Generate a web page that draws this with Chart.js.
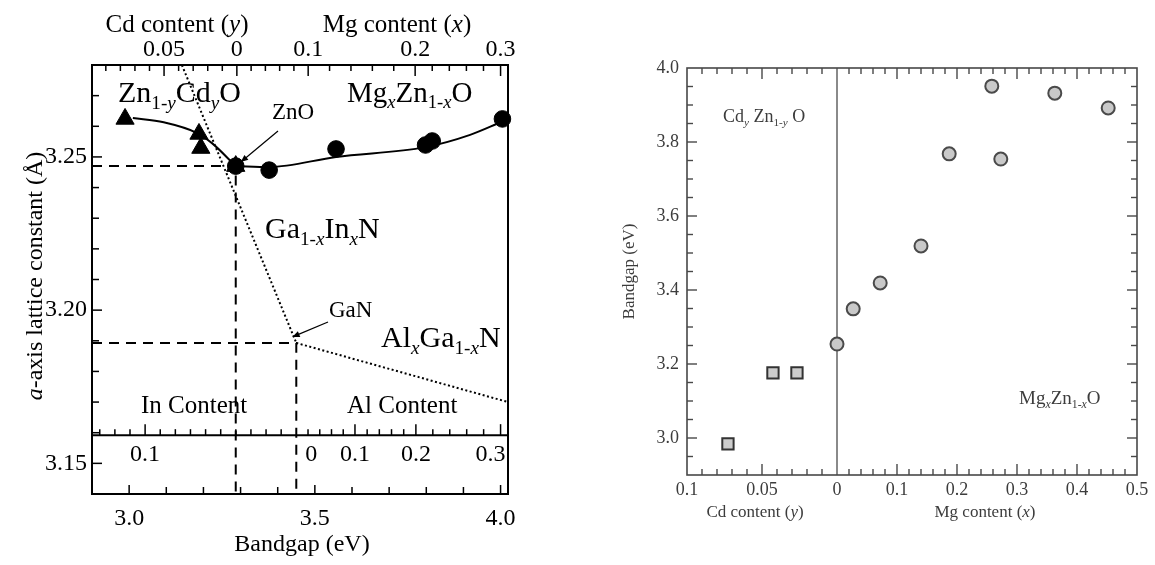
<!DOCTYPE html>
<html>
<head>
<meta charset="utf-8">
<title>ZnO-based alloys: lattice constant and bandgap</title>
<script src="https://cdn.jsdelivr.net/npm/chart.js@4.4.1/dist/chart.umd.min.js"></script>
<style>
  html, body { margin: 0; padding: 0; background: #fff; }
  #wrap { position: relative; width: 1155px; height: 565px; overflow: hidden; background: #fff; }
  #lattice { position: absolute; left: 0; top: 0; }
  #gap { position: absolute; left: 560px; top: 0; }
</style>
</head>
<body>
<div id="wrap">
  <canvas id="lattice" width="560" height="565"></canvas>
  <canvas id="gap" width="595" height="565"></canvas>
</div>
<script>
const SERIF = '"Liberation Serif", "Times New Roman", Times, serif';

// ---------- Left panel: a-axis lattice constant (Å) vs bandgap (eV) ----------
const cdznoGap          = [2.989, 3.188, 3.193, 3.287];
const cdznoLattice      = [3.2624, 3.2575, 3.2529, 3.2470];
const mgznoGap          = [3.287, 3.377, 3.557, 3.798, 3.816, 4.005];
const mgznoLattice      = [3.2470, 3.2457, 3.2526, 3.2539, 3.2552, 3.2624];
const cdznoCurveGap     = [3.010, 3.093, 3.183, 3.223, 3.287];
const cdznoCurveLattice = [3.2627, 3.2613, 3.2578, 3.2545, 3.2470];
const mgznoCurveGap     = [3.287, 3.377, 3.557, 3.798, 3.918, 4.002];
const mgznoCurveLattice = [3.2470, 3.2467, 3.2500, 3.2532, 3.2572, 3.2614];
const ganInGap          = [3.142, 3.450];
const ganInLattice      = [3.2800, 3.1893];
const alGaGap           = [3.450, 4.020];
const alGaLattice       = [3.1893, 3.1700];
const znoPoint          = [3.287, 3.2470];
const ganPoint          = [3.450, 3.1893];

const gapTickValues     = [3.0, 3.5, 4.0];
const latticeTickValues = [3.15, 3.20, 3.25];
const cdTopContent      = [0.05, 0];
const cdTopGap          = [3.094, 3.290];
const mgTopContent      = [0, 0.1, 0.2, 0.3];
const mgTopGap          = [3.290, 3.482, 3.770, 4.000];
const inContent         = [0.1, 0];
const inGap             = [3.043, 3.450];
const alContent         = [0, 0.1, 0.2, 0.3];
const alGap             = [3.450, 3.608, 3.772, 4.000];

// ---------- Right panel: bandgap vs Cd / Mg content ----------
const cdContent         = [0.0727, 0.0427, 0.0267];
const cdBandgap         = [2.984, 3.176, 3.176];
const mgContent         = [0, 0.027, 0.072, 0.140, 0.187, 0.258, 0.273, 0.363, 0.452];
const mgBandgap         = [3.254, 3.349, 3.419, 3.519, 3.768, 3.951, 3.754, 3.932, 3.892];
const cdAxisTicks       = [0.1, 0.05, 0];
const mgAxisTicks       = [0.1, 0.2, 0.3, 0.4, 0.5];
const bandgapAxisTicks  = [3.0, 3.2, 3.4, 3.6, 3.8, 4.0];

// axis layout constants
const GAP_MIN = 2.9, GAP_MAX = 4.02, LAT_MIN = 3.14, LAT_MAX = 3.28;
const STRIP_EDGE = 3.1592;   // top edge of the In/Al content strip
const CD_STRETCH = 2.5;      // Cd half of the composition axis is drawn 2.5x wider per unit
const BG_MIN = 2.9, BG_MAX = 4.0;

const pairs = (xs, ys) => xs.map((x, i) => ({ x, y: ys[i] }));

function seg(ctx, x1, y1, x2, y2) {
  ctx.beginPath(); ctx.moveTo(x1, y1); ctx.lineTo(x2, y2); ctx.stroke();
}

// text with italic and subscript runs: parts = [[text, 'i' | 's' | 'si' | '']]
function rich(ctx, parts, x, y, size, align = 'left', subScale = 0.64) {
  const items = parts.map(([t, st = '']) => {
    const sub = st.includes('s');
    const sz = sub ? size * subScale : size;
    const font = (st.includes('i') ? 'italic ' : '') + sz.toFixed(1) + 'px ' + SERIF;
    ctx.font = font;
    return { t, font, w: ctx.measureText(t).width, dy: sub ? size * 0.22 : 0 };
  });
  const total = items.reduce((s, it) => s + it.w, 0);
  let cx = align === 'center' ? x - total / 2 : align === 'right' ? x - total : x;
  ctx.textAlign = 'left';
  ctx.textBaseline = 'alphabetic';
  for (const it of items) { ctx.font = it.font; ctx.fillText(it.t, cx, y + it.dy); cx += it.w; }
}

function arrow(ctx, x1, y1, x2, y2, head = 8) {
  const ang = Math.atan2(y2 - y1, x2 - x1);
  seg(ctx, x1, y1, x2 - Math.cos(ang) * head * 0.6, y2 - Math.sin(ang) * head * 0.6);
  ctx.beginPath();
  ctx.moveTo(x2, y2);
  ctx.lineTo(x2 - head * Math.cos(ang - 0.4), y2 - head * Math.sin(ang - 0.4));
  ctx.lineTo(x2 - head * Math.cos(ang + 0.4), y2 - head * Math.sin(ang + 0.4));
  ctx.closePath();
  ctx.fill();
}

// position of an alloy composition on the bandgap axis (piecewise linear between labelled ticks)
function contentToGap(cs, gs, c) {
  const n = cs.length;
  let i = -1;
  for (let j = 0; j < n - 1; j++) {
    if ((c - cs[j]) * (c - cs[j + 1]) <= 0) { i = j; break; }
  }
  if (i < 0) {
    const lo = Math.min(cs[0], cs[n - 1]);
    i = ((c < lo) === (cs[0] < cs[n - 1])) ? 0 : n - 2;
  }
  return gs[i] + (gs[i + 1] - gs[i]) * (c - cs[i]) / (cs[i + 1] - cs[i]);
}

const latticeDecor = {
  id: 'latticeDecor',
  afterDatasetsDraw(chart) {
    const { ctx, chartArea: a } = chart;
    const X = v => chart.scales.x.getPixelForValue(v);
    const Y = v => chart.scales.y.getPixelForValue(v);
    ctx.save();
    ctx.strokeStyle = '#000';
    ctx.fillStyle = '#000';
    ctx.lineWidth = 2;
    ctx.strokeRect(a.left, a.top, a.right - a.left, a.bottom - a.top);
    const sepY = Y(STRIP_EDGE);
    seg(ctx, a.left, sepY, a.right, sepY);

    ctx.lineWidth = 1.5;
    for (let k = 315; k <= 327; k++) {
      const y = Y(k / 100);
      seg(ctx, a.left, y, a.left + (k % 5 === 0 ? 10 : 7), y);
    }
    for (let k = 30; k <= 40; k++) {
      const x = X(k / 10);
      seg(ctx, x, a.bottom, x, a.bottom - (k % 5 === 0 ? 9 : 7));
    }
    const tick = (g, y0, dir, major) => {
      if (g <= GAP_MIN || g >= GAP_MAX) return;
      const x = X(g);
      seg(ctx, x, y0, x, y0 + dir * (major ? 11 : 6));
    };
    for (let k = 0; k <= 9; k++) tick(contentToGap(cdTopContent, cdTopGap, k / 100), a.top, 1, k % 5 === 0);
    for (let k = 1; k <= 15; k++) tick(contentToGap(mgTopContent, mgTopGap, k * 0.02), a.top, 1, k % 5 === 0);
    for (let k = 1; k <= 13; k++) tick(contentToGap(inContent, inGap, k / 100), sepY, -1, k % 10 === 0);
    for (let k = 1; k <= 15; k++) tick(contentToGap(alContent, alGap, k * 0.02), sepY, -1, k % 5 === 0);

    // In / Al content numbers inside the strip
    ctx.font = '24px ' + SERIF;
    ctx.textAlign = 'center';
    ctx.textBaseline = 'middle';
    const stripY = sepY + 20;
    ctx.fillText(String(inContent[0]), X(inGap[0]), stripY);
    alContent.forEach((c, i) => {
      let x = X(alGap[i]);
      if (i === 0) x += 15;
      if (i === alContent.length - 1) x -= 10;
      ctx.fillText(String(c), x, stripY);
    });

    // alloy labels
    rich(ctx, [['Zn'], ['1-', 's'], ['y', 'si'], ['Cd'], ['y', 'si'], ['O']], 118, 102, 30);
    rich(ctx, [['Mg'], ['x', 'si'], ['Zn'], ['1-', 's'], ['x', 'si'], ['O']], 347, 102, 29);
    rich(ctx, [['Ga'], ['1-', 's'], ['x', 'si'], ['In'], ['x', 'si'], ['N']], 265, 238, 30);
    rich(ctx, [['Al'], ['x', 'si'], ['Ga'], ['1-', 's'], ['x', 'si'], ['N']], 381, 347, 30);

    ctx.font = '23px ' + SERIF;
    ctx.textAlign = 'left';
    ctx.textBaseline = 'alphabetic';
    ctx.fillText('ZnO', 272, 119);
    ctx.fillText('GaN', 329, 317);
    ctx.lineWidth = 1.2;
    arrow(ctx, 278, 131, X(znoPoint[0]) + 5, Y(znoPoint[1]) - 4);
    arrow(ctx, 328, 322, X(ganPoint[0]) - 4, Y(ganPoint[1]) - 6);

    ctx.font = '25px ' + SERIF;
    ctx.fillText('In Content', 141, 413);
    ctx.fillText('Al Content', 347, 413);

    // axis titles
    rich(ctx, [['Cd content ('], ['y', 'i'], [')']], 177, 32, 25, 'center');
    rich(ctx, [['Mg content ('], ['x', 'i'], [')']], 397, 32, 25, 'center');
    rich(ctx, [['Bandgap (eV)']], 302, 551, 24, 'center');
    ctx.save();
    ctx.translate(35, 276);
    ctx.rotate(-Math.PI / 2);
    rich(ctx, [['a', 'i'], ['-axis lattice constant (Å)']], 0, 7, 24, 'center');
    ctx.restore();

    ctx.restore();
  }
};

const topTicks = [
  ...cdTopContent.map((c, i) => ({ value: cdTopGap[i], label: String(c) })),
  ...mgTopContent.slice(1).map((c, i) => ({ value: mgTopGap[i + 1], label: String(c) }))
];

const guide = p => ({
  label: 'guide',
  data: [{ x: GAP_MIN, y: p[1] }, { x: p[0], y: p[1] }, { x: p[0], y: LAT_MIN }],
  showLine: true, borderColor: '#000', borderWidth: 2, borderDash: [10, 7],
  pointRadius: 0, tension: 0
});

const tickFont = { family: SERIF, size: 24 };

new Chart(document.getElementById('lattice'), {
  type: 'scatter',
  data: {
    datasets: [
      guide(znoPoint),
      guide(ganPoint),
      { label: 'Ga1-xInxN', data: pairs(ganInGap, ganInLattice), showLine: true,
        borderColor: '#000', borderWidth: 2, borderDash: [2, 2.5], pointRadius: 0 },
      { label: 'AlxGa1-xN', data: pairs(alGaGap, alGaLattice), showLine: true,
        borderColor: '#000', borderWidth: 2, borderDash: [2, 2.5], pointRadius: 0 },
      { label: 'Zn1-yCdyO trend', data: pairs(cdznoCurveGap, cdznoCurveLattice), showLine: true,
        borderColor: '#000', borderWidth: 2, cubicInterpolationMode: 'monotone', pointRadius: 0 },
      { label: 'MgxZn1-xO trend', data: pairs(mgznoCurveGap, mgznoCurveLattice), showLine: true,
        borderColor: '#000', borderWidth: 2, cubicInterpolationMode: 'monotone', pointRadius: 0 },
      { label: 'Zn1-yCdyO', data: pairs(cdznoGap, cdznoLattice), pointStyle: 'triangle',
        pointRadius: 10.5, backgroundColor: '#000', borderColor: '#000', borderWidth: 1, clip: false },
      { label: 'MgxZn1-xO', data: pairs(mgznoGap, mgznoLattice), pointStyle: 'circle',
        pointRadius: 8.3, backgroundColor: '#000', borderColor: '#000', borderWidth: 1, clip: false }
    ]
  },
  options: {
    responsive: false, animation: false, devicePixelRatio: 1,
    layout: { padding: { left: 0, right: 52, top: 0, bottom: 0 } },
    plugins: { legend: { display: false }, tooltip: { enabled: false } },
    scales: {
      x: {
        type: 'linear', position: 'bottom', min: GAP_MIN, max: GAP_MAX, bounds: 'data',
        grid: { display: false, drawTicks: false }, border: { display: false },
        afterBuildTicks: ax => { ax.ticks = gapTickValues.map(v => ({ value: v })); },
        afterFit: ax => { ax.height = 71; },
        ticks: { autoSkip: false, maxRotation: 0, padding: 10, color: '#000', font: tickFont,
                 callback: v => Number(v).toFixed(1) }
      },
      xTop: {
        type: 'linear', position: 'top', min: GAP_MIN, max: GAP_MAX, bounds: 'data',
        grid: { display: false, drawTicks: false }, border: { display: false },
        afterBuildTicks: ax => { ax.ticks = topTicks.map(t => ({ value: t.value })); },
        afterFit: ax => { ax.height = 65; },
        ticks: { autoSkip: false, maxRotation: 0, padding: 1, color: '#000', font: tickFont,
                 callback: (v, i) => topTicks[i].label }
      },
      y: {
        type: 'linear', position: 'left', min: LAT_MIN, max: LAT_MAX, bounds: 'data',
        grid: { display: false, drawTicks: false }, border: { display: false },
        afterBuildTicks: ax => { ax.ticks = latticeTickValues.map(v => ({ value: v })); },
        afterFit: ax => { ax.width = 92; },
        ticks: { autoSkip: false, padding: 5, color: '#000', font: tickFont,
                 callback: v => Number(v).toFixed(2) }
      }
    }
  },
  plugins: [latticeDecor]
});

// ---------- right panel ----------
const INK = '#3c3c3c';
const compTicks = [
  ...cdAxisTicks.map(c => ({ value: -CD_STRETCH * c, label: String(c) })),
  ...mgAxisTicks.map(c => ({ value: c, label: String(c) }))
];

const bandgapDecor = {
  id: 'bandgapDecor',
  beforeDatasetsDraw(chart) {
    const { ctx, chartArea: a } = chart;
    const x0 = chart.scales.x.getPixelForValue(0);
    ctx.save();
    ctx.strokeStyle = '#8a8a8a';
    ctx.lineWidth = 2;
    seg(ctx, x0, a.top, x0, a.bottom);
    ctx.restore();
  },
  afterDatasetsDraw(chart) {
    const { ctx, chartArea: a } = chart;
    const X = v => chart.scales.x.getPixelForValue(v);
    const Y = v => chart.scales.y.getPixelForValue(v);
    ctx.save();
    ctx.strokeStyle = '#484848';
    ctx.fillStyle = INK;
    ctx.lineWidth = 1.6;
    ctx.strokeRect(a.left, a.top, a.right - a.left, a.bottom - a.top);

    ctx.lineWidth = 1.4;
    const vt = (u, major) => {
      const x = X(u), len = major ? 11 : 6;
      seg(ctx, x, a.top, x, a.top + len);
      seg(ctx, x, a.bottom, x, a.bottom - len);
    };
    for (let k = 1; k <= 9; k++) vt(-CD_STRETCH * k / 100, k % 5 === 0);
    for (let k = 1; k <= 24; k++) vt(k * 0.02, k % 5 === 0);
    for (let k = 59; k <= 79; k++) {
      const y = Y(k / 20), len = k % 4 === 0 ? 10 : 6;
      seg(ctx, a.left, y, a.left + len, y);
      seg(ctx, a.right, y, a.right - len, y);
    }

    rich(ctx, [['Cd'], ['y', 'si'], [' Zn'], ['1-', 's'], ['y', 'si'], [' O']], 163, 122, 18, 'left', 0.62);
    rich(ctx, [['Mg'], ['x', 'si'], ['Zn'], ['1-', 's'], ['x', 'si'], ['O']], 459, 404, 19, 'left', 0.62);
    rich(ctx, [['Cd content ('], ['y', 'i'], [')']], 195, 517, 17, 'center');
    rich(ctx, [['Mg content ('], ['x', 'i'], [')']], 425, 517, 17, 'center');
    ctx.save();
    ctx.translate(68, (a.top + a.bottom) / 2);
    ctx.rotate(-Math.PI / 2);
    rich(ctx, [['Bandgap (eV)']], 0, 6, 17, 'center');
    ctx.restore();
    ctx.restore();
  }
};

const smallTickFont = { family: SERIF, size: 18 };

new Chart(document.getElementById('gap'), {
  type: 'scatter',
  data: {
    datasets: [
      { label: 'CdyZn1-yO', data: cdContent.map((c, i) => ({ x: -CD_STRETCH * c, y: cdBandgap[i] })),
        pointStyle: 'rect', pointRadius: 8, backgroundColor: '#cdcdcd', borderColor: '#333', borderWidth: 2 },
      { label: 'MgxZn1-xO', data: pairs(mgContent, mgBandgap),
        pointStyle: 'circle', pointRadius: 6.5, backgroundColor: '#c9c9c9', borderColor: '#4a4a4a', borderWidth: 2 }
    ]
  },
  options: {
    responsive: false, animation: false, devicePixelRatio: 1,
    layout: { padding: { left: 0, right: 18, top: 68, bottom: 0 } },
    plugins: { legend: { display: false }, tooltip: { enabled: false } },
    scales: {
      x: {
        type: 'linear', position: 'bottom', min: -CD_STRETCH * 0.1, max: 0.5, bounds: 'data',
        grid: { display: false, drawTicks: false }, border: { display: false },
        afterBuildTicks: ax => { ax.ticks = compTicks.map(t => ({ value: t.value })); },
        afterFit: ax => { ax.height = 90; },
        ticks: { autoSkip: false, maxRotation: 0, padding: 4, color: INK, font: smallTickFont,
                 callback: (v, i) => compTicks[i].label }
      },
      y: {
        type: 'linear', position: 'left', min: BG_MIN, max: BG_MAX, bounds: 'data',
        grid: { display: false, drawTicks: false }, border: { display: false },
        afterBuildTicks: ax => { ax.ticks = bandgapAxisTicks.map(v => ({ value: v })); },
        afterFit: ax => { ax.width = 127; },
        ticks: { autoSkip: false, padding: 8, color: INK, font: smallTickFont,
                 callback: v => Number(v).toFixed(1) }
      }
    }
  },
  plugins: [bandgapDecor]
});
</script>
</body>
</html>
